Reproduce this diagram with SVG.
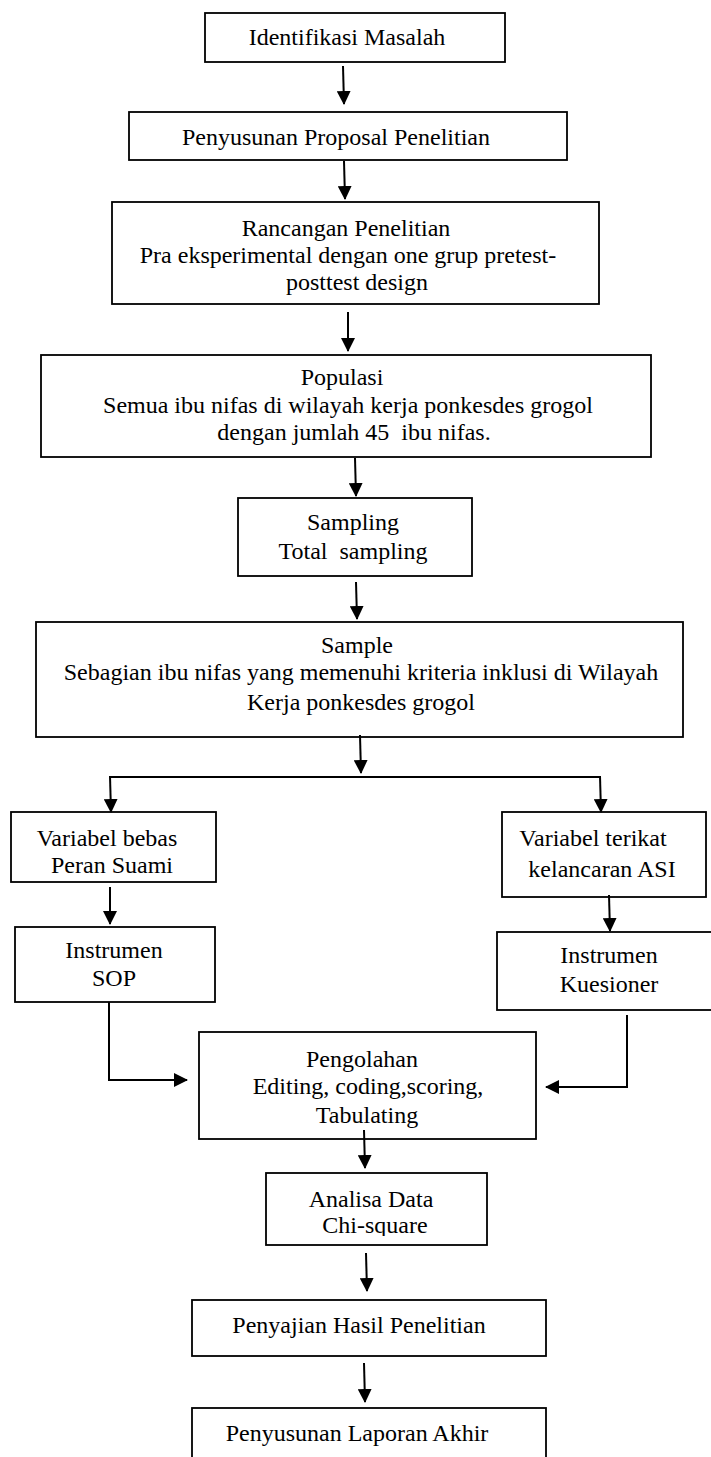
<svg xmlns="http://www.w3.org/2000/svg" width="711" height="1457" viewBox="0 0 711 1457">
<style>
rect.box{fill:#fff;stroke:#000;stroke-width:1.8}
text{font-family:"Liberation Serif","Times New Roman",serif;font-size:24px;fill:#000;text-anchor:middle;white-space:pre}
.conn path,.conn line{fill:none;stroke:#000;stroke-width:2}
</style>
<defs>
<marker id="ah" markerUnits="userSpaceOnUse" markerWidth="14" markerHeight="14" refX="13" refY="7" orient="auto">
<path d="M0,0 L14,7 L0,14 z" fill="#000"/>
</marker>
<clipPath id="clipChi"><rect x="266" y="1173" width="221" height="63"/></clipPath>
</defs>
<rect width="711" height="1457" fill="#fff"/>
<g id="n1"><rect class="box" x="205" y="13" width="300" height="49"/><text x="347" y="45">Identifikasi Masalah</text></g>
<g id="n2"><rect class="box" x="129" y="112" width="438" height="48"/><text x="336" y="145">Penyusunan Proposal Penelitian</text></g>
<g id="n3"><rect class="box" x="112" y="202" width="487" height="102"/><text x="346" y="236">Rancangan Penelitian</text><text x="348" y="263">Pra eksperimental dengan one grup pretest-</text><text x="357" y="290">posttest design</text></g>
<g id="n4"><rect class="box" x="41" y="355" width="610" height="102"/><text x="342" y="385">Populasi</text><text x="348" y="413">Semua ibu nifas di wilayah kerja ponkesdes grogol</text><text x="354" y="440">dengan jumlah 45  ibu nifas.</text></g>
<g id="n5"><rect class="box" x="238" y="498" width="234" height="78"/><text x="353" y="530">Sampling</text><text x="353" y="559">Total  sampling</text></g>
<g id="n6"><rect class="box" x="36" y="622" width="647" height="115"/><text x="357" y="653">Sample</text><text x="361" y="680">Sebagian ibu nifas yang memenuhi kriteria inklusi di Wilayah</text><text x="361" y="710">Kerja ponkesdes grogol</text></g>
<g id="n7"><rect class="box" x="11" y="812" width="205" height="70"/><text x="107" y="846">Variabel bebas</text><text x="112" y="873">Peran Suami</text></g>
<g id="n8"><rect class="box" x="502" y="812" width="204" height="85"/><text x="593" y="846">Variabel terikat</text><text x="602" y="877">kelancaran ASI</text></g>
<g id="n9"><rect class="box" x="15" y="927" width="200" height="75"/><text x="114" y="958">Instrumen</text><text x="114" y="986">SOP</text></g>
<g id="n10"><rect class="box" x="497" y="932" width="218" height="78"/><text x="609" y="963">Instrumen</text><text x="609" y="992">Kuesioner</text></g>
<g id="n11"><rect class="box" x="199" y="1032" width="337" height="107"/><text x="362" y="1067">Pengolahan</text><text x="368" y="1094">Editing, coding,scoring,</text><text x="367" y="1123">Tabulating</text></g>
<g id="n12"><rect class="box" x="266" y="1173" width="221" height="72"/><text x="371" y="1207">Analisa Data</text><text x="375" y="1233" clip-path="url(#clipChi)">Chi-square</text></g>
<g id="n13"><rect class="box" x="192" y="1300" width="354" height="56"/><text x="359" y="1333">Penyajian Hasil Penelitian</text></g>
<g id="n14"><rect class="box" x="192" y="1408" width="354" height="62"/><text x="357" y="1441">Penyusunan Laporan Akhir</text></g>
<g id="connectors" class="conn">
<line x1="343" y1="66" x2="344" y2="104" marker-end="url(#ah)"/>
<line x1="344" y1="161" x2="345" y2="199" marker-end="url(#ah)"/>
<line x1="348" y1="312" x2="348" y2="351" marker-end="url(#ah)"/>
<line x1="355" y1="458" x2="356" y2="496" marker-end="url(#ah)"/>
<line x1="356" y1="582" x2="357" y2="619" marker-end="url(#ah)"/>
<line x1="360" y1="735" x2="361" y2="773" marker-end="url(#ah)"/>
<line x1="110" y1="777" x2="600" y2="777"/>
<line x1="110" y1="776" x2="111" y2="812" marker-end="url(#ah)"/>
<line x1="600" y1="776" x2="601" y2="812" marker-end="url(#ah)"/>
<line x1="110" y1="887" x2="110" y2="924" marker-end="url(#ah)"/>
<line x1="609" y1="895" x2="610" y2="931" marker-end="url(#ah)"/>
<path d="M109,1002 L109,1080 L187,1080" marker-end="url(#ah)"/>
<path d="M627,1015 L627,1087 L546,1087" marker-end="url(#ah)"/>
<line x1="364" y1="1130" x2="365" y2="1168" marker-end="url(#ah)"/>
<line x1="366" y1="1253" x2="367" y2="1291" marker-end="url(#ah)"/>
<line x1="364" y1="1363" x2="365" y2="1402" marker-end="url(#ah)"/>
</g>
</svg>
